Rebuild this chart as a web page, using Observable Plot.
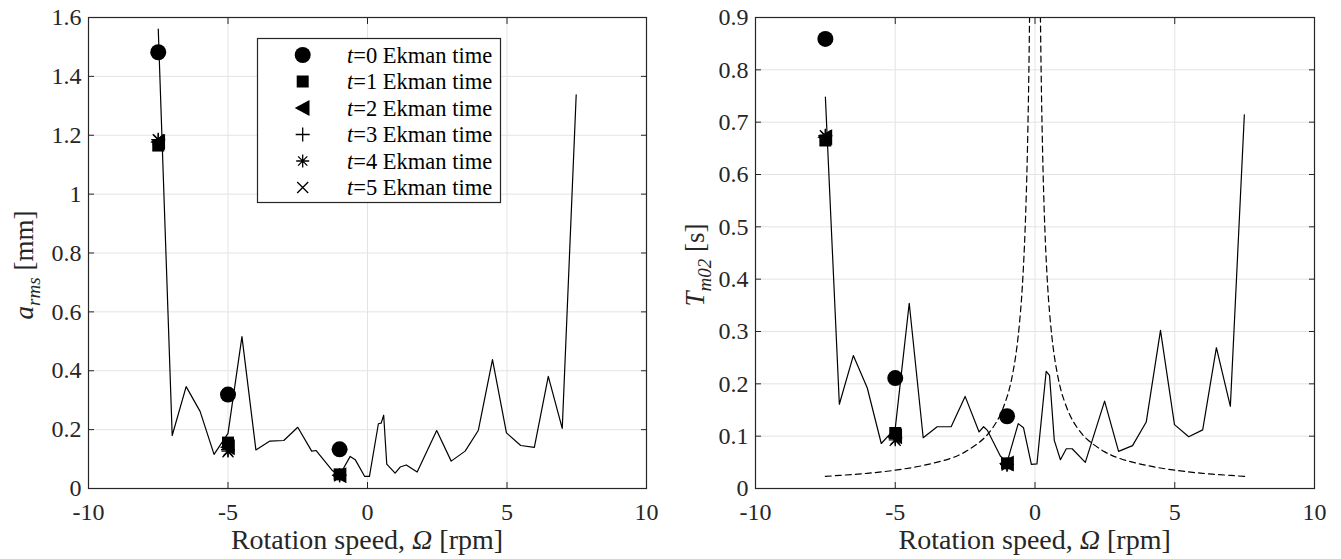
<!DOCTYPE html>
<html><head><meta charset="utf-8">
<script src="https://cdn.jsdelivr.net/npm/d3@7"></script>
<script src="https://cdn.jsdelivr.net/npm/@observablehq/plot@0.6"></script>
<style>
html,body{margin:0;padding:0;background:#fff;}
#wrap{position:relative;width:1341px;height:559px;overflow:hidden;background:#fff;}
#left,#right{position:absolute;top:0;}
#left{left:0;} #right{left:670px;}
#wrap svg, #wrap svg g, #wrap svg text, #wrap svg tspan { font-family: "Liberation Serif", "Times New Roman", serif !important; }
</style></head><body>
<div id="wrap"><div id="left"></div><div id="right"></div></div>
<script>
// ---------- data ----------
const xTicks = [-10, -5, 0, 5, 10];
const aTicks = [0, 0.2, 0.4, 0.6, 0.8, 1, 1.2, 1.4, 1.6];
const tTicks = [0, 0.1, 0.2, 0.3, 0.4, 0.5, 0.6, 0.7, 0.8, 0.9];

// left panel line: a_rms vs rotation speed
const omegaA = [-7.5, -7.0, -6.5, -6.0, -5.5, -5.0, -4.5, -4.0, -3.5, -3.0, -2.5, -2.0, -1.84, -1.25, -1.0, -0.62, -0.44, -0.1, 0.07, 0.39, 0.49, 0.58, 0.69, 0.99, 1.17, 1.39, 1.78, 2.48, 3.0, 3.5, 3.97, 4.48, 4.98, 5.49, 5.98, 6.48, 6.98, 7.48];
const aRms   = [1.561, 0.180, 0.346, 0.262, 0.116, 0.187, 0.516, 0.131, 0.161, 0.163, 0.208, 0.127, 0.129, 0.060, 0.045, 0.109, 0.098, 0.041, 0.041, 0.220, 0.222, 0.249, 0.083, 0.052, 0.073, 0.080, 0.056, 0.197, 0.093, 0.127, 0.197, 0.438, 0.189, 0.146, 0.140, 0.381, 0.204, 1.337];

// right panel line: T_m02 vs rotation speed
const omegaT = [-7.5, -7.0, -6.5, -6.0, -5.5, -5.0, -4.5, -4.0, -3.5, -3.0, -2.5, -2.0, -1.84, -1.7, -1.24, -1.0, -0.6, -0.41, -0.13, 0.07, 0.4, 0.52, 0.69, 0.91, 1.12, 1.33, 1.8, 2.49, 2.99, 3.49, 3.98, 4.49, 4.99, 5.5, 6.0, 6.49, 6.99, 7.49];
const tm02   = [0.748, 0.161, 0.254, 0.192, 0.086, 0.115, 0.354, 0.097, 0.118, 0.118, 0.176, 0.108, 0.118, 0.111, 0.062, 0.050, 0.124, 0.116, 0.046, 0.047, 0.224, 0.216, 0.092, 0.055, 0.076, 0.076, 0.050, 0.167, 0.071, 0.082, 0.127, 0.302, 0.122, 0.099, 0.112, 0.269, 0.157, 0.714];

// right panel dashed reference curve (two branches)
const omegaDashNeg = [-7.5, -7, -6, -5, -4, -3, -2.5, -2, -1.75, -1.5, -1.25, -1, -0.9, -0.8, -0.7, -0.6, -0.5, -0.45, -0.4, -0.35, -0.3, -0.27, -0.24, -0.22, -0.2, -0.18, -0.16];
const tDashNeg     = [0.023, 0.025, 0.029, 0.035, 0.044, 0.058, 0.070, 0.088, 0.100, 0.117, 0.140, 0.175, 0.194, 0.219, 0.250, 0.292, 0.350, 0.389, 0.438, 0.500, 0.583, 0.648, 0.729, 0.795, 0.875, 0.972, 1.094];
const omegaDashPos = [0.16, 0.18, 0.2, 0.22, 0.24, 0.27, 0.3, 0.35, 0.4, 0.45, 0.5, 0.6, 0.7, 0.8, 0.9, 1, 1.25, 1.5, 1.75, 2, 2.5, 3, 4, 5, 6, 7, 7.5];
const tDashPos     = [1.094, 0.972, 0.875, 0.795, 0.729, 0.648, 0.583, 0.500, 0.438, 0.389, 0.350, 0.292, 0.250, 0.219, 0.194, 0.175, 0.140, 0.117, 0.100, 0.088, 0.070, 0.058, 0.044, 0.035, 0.029, 0.025, 0.023];

// markers at Ekman times
const omegaMarks = [-7.5, -5, -1];
const seriesNames = ["t=0 Ekman time", "t=1 Ekman time", "t=2 Ekman time", "t=3 Ekman time", "t=4 Ekman time", "t=5 Ekman time"];
const aMarks = [
  [1.482, 0.319, 0.133],
  [1.165, 0.156, 0.048],
  [1.177, 0.140, 0.045],
  [1.185, 0.132, 0.045],
  [1.185, 0.127, 0.043],
  [1.185, 0.125, 0.043]
];
const tMarks = [
  [0.859, 0.211, 0.138],
  [0.665, 0.106, 0.048],
  [0.671, 0.100, 0.048],
  [0.674, 0.097, 0.046],
  [0.674, 0.093, 0.045],
  [0.674, 0.092, 0.045]
];

// ---------- symbols ----------
const rad = s => Math.sqrt(s / Math.PI);
const symSquare = {draw(c, s) { const r = rad(s); c.rect(-r, -r, 2 * r, 2 * r); }};
const symTriLeft = {draw(c, s) { const r = rad(s); c.moveTo(-r, 0); c.lineTo(r * 0.85, -r); c.lineTo(r * 0.85, r); c.closePath(); }};
const symPlus = {draw(c, s) { const r = rad(s); c.moveTo(-r, 0); c.lineTo(r, 0); c.moveTo(0, -r); c.lineTo(0, r); }};
const symAst = {draw(c, s) { const r = rad(s), d = r * 0.7071; c.moveTo(-r, 0); c.lineTo(r, 0); c.moveTo(0, -r); c.lineTo(0, r); c.moveTo(-d, -d); c.lineTo(d, d); c.moveTo(-d, d); c.lineTo(d, -d); }};
const symTimes = {draw(c, s) { const r = rad(s); c.moveTo(-r, -r); c.lineTo(r, r); c.moveTo(-r, r); c.lineTo(r, -r); }};
const symCircle = {draw(c, s) { const r = rad(s); c.moveTo(r, 0); c.arc(0, 0, r, 0, 2 * Math.PI); }};
const symbolSpecs = [
  {sym: symCircle, r: 8, filled: true},
  {sym: symSquare, r: 6, filled: true},
  {sym: symTriLeft, r: 8, filled: true},
  {sym: symPlus, r: 7, filled: false},
  {sym: symAst, r: 6.5, filled: false},
  {sym: symTimes, r: 5.5, filled: false}
];

const fmt = d => String(Math.round(d * 100) / 100);
const FONT = '"Liberation Serif", "Times New Roman", serif';
const INK = "#262626";

function markerMarks(yMarks) {
  return yMarks.map((vals, k) => {
    const spec = symbolSpecs[k];
    const data = omegaMarks.map((x, i) => ({x, y: vals[i], s: seriesNames[k]}));
    return Plot.dot(data, {
      x: "x", y: "y", r: spec.r, symbol: spec.sym,
      fill: spec.filled ? "black" : "none",
      stroke: spec.filled ? "none" : "black",
      strokeWidth: spec.filled ? 0 : 1.3
    });
  });
}

function panel({width, marginLeft, marginRight, yDomain, yTicks, marks}) {
  return Plot.plot({
    width, height: 559, marginLeft, marginRight, marginTop: 17, marginBottom: 71,
    style: {fontFamily: FONT, fontSize: "24px", color: INK, background: "white", overflow: "visible"},
    x: {domain: [-10, 10], label: null},
    y: {domain: yDomain, label: null},
    marks: [
      Plot.gridX(xTicks, {stroke: "#e3e3e3", strokeOpacity: 1}),
      Plot.gridY(yTicks, {stroke: "#e3e3e3", strokeOpacity: 1}),
      ...marks,
      Plot.frame({stroke: INK, strokeWidth: 1.2}),
      Plot.axisX(xTicks, {anchor: "bottom", tickSize: 0, tickPadding: 14, tickFormat: fmt, fill: INK, fontSize: 24}),
      Plot.axisX(xTicks, {anchor: "bottom", tickSize: 6, dy: -6, fill: "none", stroke: INK}),
      Plot.axisX(xTicks, {anchor: "top", tickSize: 6, dy: 6, fill: "none", stroke: INK}),
      Plot.axisY(yTicks, {anchor: "left", tickSize: 0, tickPadding: 7, tickFormat: fmt, fill: INK, fontSize: 24}),
      Plot.axisY(yTicks, {anchor: "left", tickSize: 6, dx: 6, fill: "none", stroke: INK}),
      Plot.axisY(yTicks, {anchor: "right", tickSize: 6, dx: -6, fill: "none", stroke: INK})
    ]
  });
}

// ---------- left panel ----------
const lineA = omegaA.map((x, i) => ({x, y: aRms[i]}));
const left = panel({
  width: 670, marginLeft: 88, marginRight: 24, yDomain: [0, 1.6], yTicks: aTicks,
  marks: [
    Plot.line(lineA, {x: "x", y: "y", stroke: "black", strokeWidth: 1.2}),
    ...markerMarks(aMarks)
  ]
});
document.getElementById("left").appendChild(left);

// ---------- right panel ----------
const lineT = omegaT.map((x, i) => ({x, y: tm02[i]}));
const dash = [
  ...omegaDashNeg.map((x, i) => ({x, y: tDashNeg[i], b: "neg"})),
  ...omegaDashPos.map((x, i) => ({x, y: tDashPos[i], b: "pos"}))
];
const right = panel({
  width: 671, marginLeft: 85, marginRight: 27, yDomain: [0, 0.9], yTicks: tTicks,
  marks: [
    Plot.line(lineT, {x: "x", y: "y", stroke: "black", strokeWidth: 1.2}),
    Plot.line(dash, {x: "x", y: "y", z: "b", stroke: "black", strokeWidth: 1.2, strokeDasharray: "6,4", curve: "catmull-rom", clip: true}),
    ...markerMarks(tMarks)
  ]
});
document.getElementById("right").appendChild(right);

// ---------- labels ----------
function xLabel(svg, cx) {
  const t = d3.select(svg).append("text")
    .attr("x", cx).attr("y", 549).attr("text-anchor", "middle")
    .attr("font-size", 28).attr("fill", INK);
  t.append("tspan").text("Rotation speed, ");
  t.append("tspan").attr("font-style", "italic").text("Ω");
  t.append("tspan").text(" [rpm]");
}
function yLabel(svg, x, y, main, sub, unit) {
  const t = d3.select(svg).append("text")
    .attr("transform", `translate(${x},${y}) rotate(-90)`)
    .attr("text-anchor", "middle")
    .attr("font-size", 27).attr("fill", INK);
  t.append("tspan").attr("font-style", "italic").text(main);
  t.append("tspan").attr("font-style", "italic").attr("font-size", 19).attr("dy", 7).text(sub);
  t.append("tspan").attr("dy", -7).text(" [" + unit + "]");
}
xLabel(left, 367);
xLabel(right, 1034.7 - 670);
yLabel(left, 33, 265, "a", "rms", "mm");
yLabel(right, 34, 265, "T", "m02", "s");

// ---------- legend ----------
(function legend() {
  const g = d3.select(left).append("g");
  g.append("rect").attr("x", 257.5).attr("y", 38.5).attr("width", 243).attr("height", 164)
    .attr("fill", "white").attr("stroke", INK).attr("stroke-width", 1.2);
  seriesNames.forEach((name, k) => {
    const spec = symbolSpecs[k];
    const cy = 55 + 26.5 * k;
    g.append("path")
      .attr("transform", `translate(302.7,${cy})`)
      .attr("d", d3.symbol(spec.sym, Math.PI * spec.r * spec.r)())
      .attr("fill", spec.filled ? "black" : "none")
      .attr("stroke", spec.filled ? "none" : "black")
      .attr("stroke-width", 1.3);
    const t = g.append("text").attr("x", 347).attr("y", cy + 7.5).attr("text-anchor", "start")
      .attr("font-size", 22.5).attr("fill", "black");
    t.append("tspan").attr("font-style", "italic").text(name.slice(0, 1));
    t.append("tspan").text(name.slice(1));
  });
})();
</script>
</body></html>
